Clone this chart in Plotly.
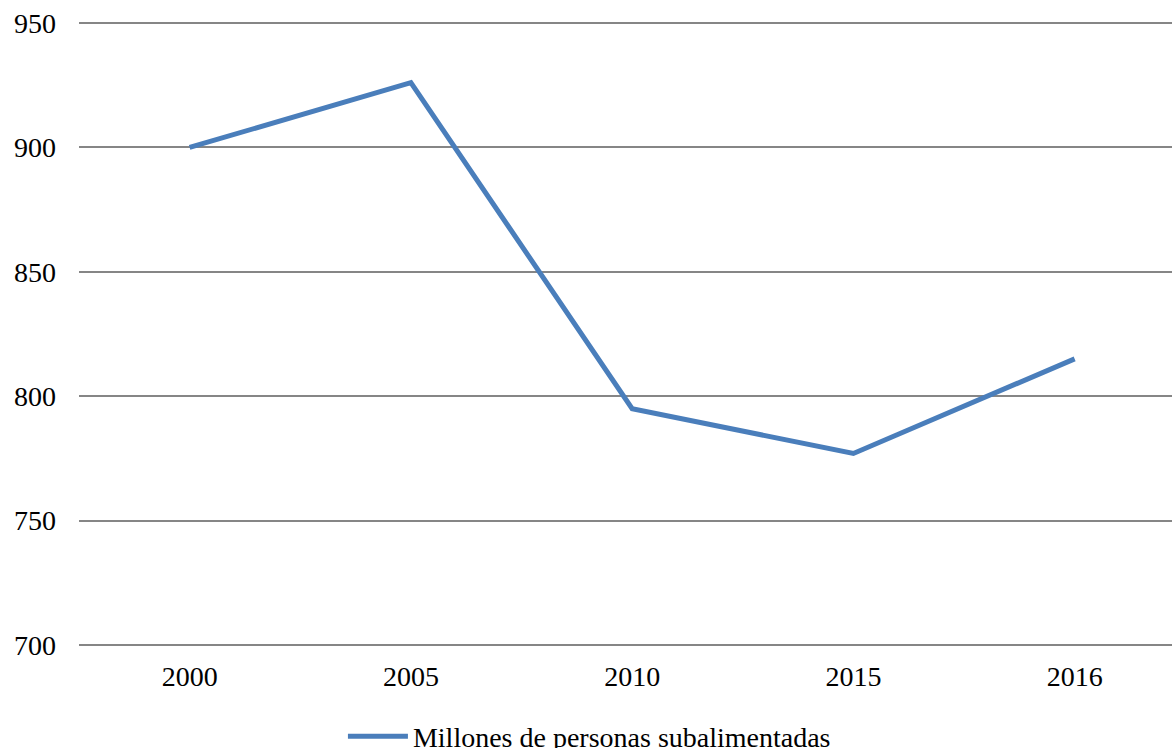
import plotly.graph_objects as go

years = ["2000", "2005", "2010", "2015", "2016"]
values = [900, 926, 795, 777, 815]
series_name = "Millones de personas subalimentadas"
y_ticks = [700, 750, 800, 850, 900, 950]

FAMILY = "'Times New Roman', 'Liberation Serif', Tinos, 'DejaVu Serif', serif"

fig = go.Figure()
fig.add_trace(go.Scatter(
    x=years, y=values, mode="lines", name=series_name,
    line=dict(color="#4a7ebb", width=5),
))

font = dict(family=FAMILY, size=28, color="#000000")
fig.update_layout(
    width=1172, height=748,
    margin=dict(l=79, r=0, t=18, b=98, autoexpand=False),
    paper_bgcolor="white", plot_bgcolor="white",
    font=font,
    showlegend=True,
    legend=dict(orientation="h", x=0.467, xanchor="center", y=-0.137, yanchor="middle",
                itemwidth=60,
                font=dict(family=FAMILY, size=28, color="#000000"),
                bgcolor="rgba(0,0,0,0)"),
)
fig.update_xaxes(type="category", range=[-0.5, 4.44], showgrid=False, showline=False,
                 ticks="", tickfont=font, ticklabelstandoff=7)
fig.update_yaxes(range=[698, 952], tickvals=y_ticks, showgrid=True, gridcolor="#868686",
                 gridwidth=1.5, zeroline=False, showline=False, ticks="", tickfont=font,
                 ticklabelstandoff=22)

fig.write_html("out.html")
